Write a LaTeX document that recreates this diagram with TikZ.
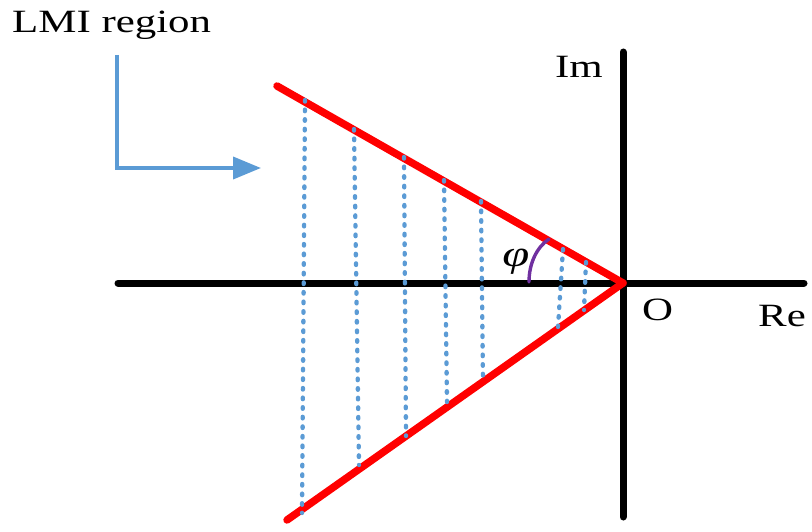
\documentclass[tikz,border=0pt]{standalone}
\usepackage{fontspec}
\setmainfont{Liberation Serif}
\newfontfamily\labfont[FakeStretch=1.32]{Liberation Serif}
\usetikzlibrary{arrows.meta}
\definecolor{lmiblue}{HTML}{5B9BD5}
\definecolor{arcpurple}{HTML}{7030A0}
\definecolor{bndred}{HTML}{FF0000}
\tikzset{
  axisline/.style={line width=7pt, black, line cap=round},
  bndline/.style={line width=7.5pt, bndred, line cap=round},
  dotline/.style={line width=4.3pt, lmiblue, line cap=round, dash pattern=on 1.6pt off 8pt},
  pointer/.style={line width=3.8pt, lmiblue, -{Triangle[length=28pt,width=22pt]}},
  lbl/.style={inner sep=0pt, font=\labfont\fontsize{32.5}{38}\selectfont},
}
\begin{document}
\begin{tikzpicture}[x=1pt,y=-1pt]
\useasboundingbox (0,0) rectangle (812,532);
% coordinates
\coordinate (O) at (623,283);
\coordinate (xl) at (118,283);
\coordinate (xr) at (804,283);
\coordinate (yt) at (623,52);
\coordinate (yb) at (623,517);
\coordinate (ut) at (277,86);
\coordinate (lb) at (287,520);
% axes
\draw[axisline] (xl) -- (xr);
\draw[axisline] (yt) -- (yb);
% boundary lines
\draw[bndline] (ut) -- (O);
\draw[bndline] (lb) -- (O);
% dotted fills
\coordinate (a1) at (305,100); \coordinate (b1) at (302,513);
\coordinate (a2) at (354,129); \coordinate (b2) at (359,465);
\coordinate (a3) at (404,157); \coordinate (b3) at (406,436);
\coordinate (a4) at (444,180); \coordinate (b4) at (447,402);
\coordinate (a5) at (481,201); \coordinate (b5) at (483,382);
\coordinate (a6) at (563,249); \coordinate (b6) at (558,327);
\coordinate (a7) at (586,262); \coordinate (b7) at (584,310);
\foreach \i in {1,...,7} {\draw[dotline] (a\i) -- (b\i);}
% angle arc
\coordinate (arcs) at (529,282);
\coordinate (arce) at (549,239);
\draw[line width=3.4pt, arcpurple, line cap=round] (arcs) .. controls (529,263) and (537,247) .. (arce);
% labels
\node[lbl, anchor=base west] (lmi) at (12,33) {LMI region};
\node[lbl, anchor=base west] (im) at (555,78) {Im};
\node[lbl, anchor=base west] (o) at (642,320) {O};
\node[lbl, anchor=base west] (re) at (758,326) {Re};
\node[lbl, font=\labfont\fontsize{37}{42}\selectfont] (phi) at (516,262) {\itshape φ};
% pointer arrow
\coordinate (p0) at (117,55);
\coordinate (p1) at (117,168);
\coordinate (p2) at (261,168);
\draw[pointer] (p0) -- (p1) -- (p2);
\end{tikzpicture}
\end{document}
